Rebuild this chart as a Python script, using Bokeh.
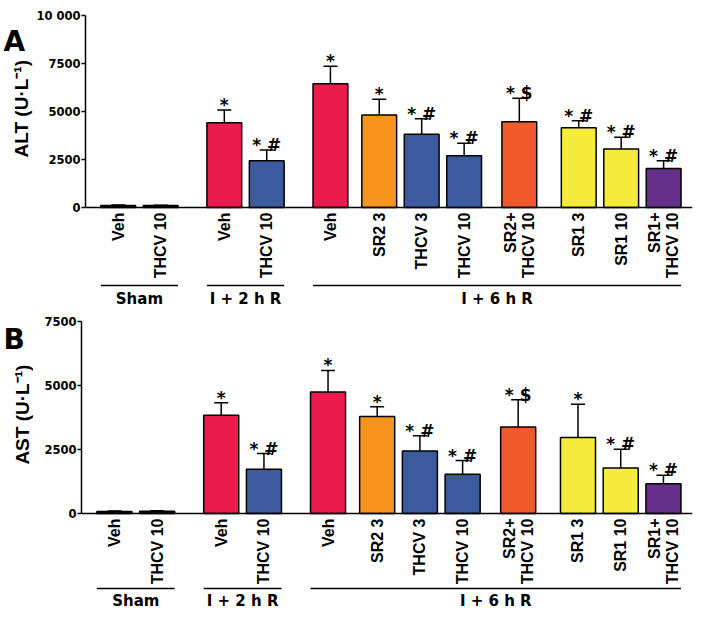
import math
from bokeh.plotting import figure
from bokeh.models import ColumnDataSource, Whisker, TeeHead, Span, FixedTicker
from bokeh.layouts import column, row
from bokeh.embed import file_html
from bokeh.resources import INLINE
from bokeh.core.properties import value

# ---------------- data ----------------
treatments = ["Veh", "THCV 10", "Veh", "THCV 10", "Veh", "SR2 3", "THCV 3", "THCV 10",
              "SR2+\nTHCV 10", "SR1 3", "SR1 10", "SR1+\nTHCV 10"]
group_names = ["Sham", "I + 2 h R", "I + 6 h R"]
group_of = [0, 0, 1, 1, 2, 2, 2, 2, 2, 2, 2, 2]

alt_mean = [110, 100, 4420, 2430, 6440, 4820, 3810, 2690, 4470, 4160, 3050, 2030]
alt_sem = [20, 20, 660, 570, 920, 820, 810, 660, 1220, 360, 610, 410]
alt_marks = ["", "", "*", "* #", "*", "*", "* #", "* #", "* $", "* #", "* #", "* #"]
alt_ticks = [0, 2500, 5000, 7500, 10000]

ast_mean = [80, 90, 3840, 1730, 4750, 3790, 2440, 1530, 3380, 2970, 1780, 1160]
ast_sem = [15, 15, 490, 610, 840, 380, 600, 540, 1060, 1300, 730, 330]
ast_marks = ["", "", "*", "* #", "*", "*", "* #", "* #", "* $", "*", "* #", "* #"]
ast_ticks = [0, 2500, 5000, 7500]

bar_colors = ["#111111", "#111111", "#EC1B4E", "#3D5A9E", "#EC1B4E", "#F7941E", "#3D5A9E",
              "#3D5A9E", "#F15A2B", "#F4EB3B", "#F4EB3B", "#66308A"]

# ---------------- layout ----------------
GAPS = [1, 1.5, 1, 1.5, 1.15, 1, 1, 1.3, 1.4, 1, 1]
xs = [0.0]
for g in GAPS:
    xs.append(xs[-1] + g)
X_START = -0.77
X_END = xs[-1] + 0.68
BAR_W = 0.82
STRIP_W = 33
MAIN_W = 693 - STRIP_W
BORDER_L = 48
BORDER_R = 1

BOLD_H = "DejaVu Sans"
BOLD_V = "Liberation Sans"


def make_strip(letter, ylabel, fig_h, letter_base, title_x, title_y):
    s = figure(width=STRIP_W, height=fig_h, x_range=(0, STRIP_W), y_range=(fig_h, 0),
               output_backend="svg", toolbar_location=None, x_axis_location=None,
               y_axis_location=None, min_border=0)
    s.outline_line_color = None
    s.grid.visible = False
    s.text(x=[3], y=[letter_base], text=[letter], text_align="left",
           text_baseline="alphabetic", text_font=value(BOLD_H), text_font_style="bold",
           text_font_size="28px", text_color="black")
    s.text(x=[title_x], y=[title_y], text=[ylabel], angle=math.pi / 2, text_align="center",
           text_baseline="middle", text_font=value(BOLD_V), text_font_style="bold",
           text_font_size="19px", text_color="black")
    return s


def make_panel(ymax, ticks, means, sems, marks, fig_h, top, plot_px, line_px, glabel_px):
    frame_h = fig_h - top
    upp = ymax / plot_px
    y_start = -(frame_h - plot_px) * upp
    p = figure(width=MAIN_W, height=fig_h, x_range=(X_START, X_END), y_range=(y_start, ymax),
               output_backend="svg", toolbar_location=None, x_axis_location=None,
               min_border_left=BORDER_L, min_border_right=BORDER_R,
               min_border_top=top, min_border_bottom=0)
    p.outline_line_color = None
    p.grid.visible = False
    p.background_fill_color = "white"
    p.border_fill_color = "white"

    ax = p.yaxis[0]
    ax.bounds = (0, ymax)
    ax.ticker = FixedTicker(ticks=ticks)
    ax.major_label_overrides = {10000: "10 000"}
    ax.minor_tick_line_color = None
    ax.major_tick_in = 0
    ax.major_tick_out = 4
    ax.axis_line_width = 1.5
    ax.major_tick_line_width = 1.5
    ax.major_label_standoff = 1
    ax.major_label_text_font = BOLD_H
    ax.major_label_text_font_style = "bold"
    ax.major_label_text_font_size = "11.5px"
    ax.major_label_text_color = "black"

    upper = [m + s for m, s in zip(means, sems)]
    src = ColumnDataSource(dict(
        x=xs, mean=means, upper=upper, color=bar_colors, label=treatments,
        mark=marks, mark_y=[u + 5 * upp for u in upper],
        label_y=[-5 * upp] * len(xs),
    ))

    p.add_layout(Span(location=0, dimension="width", line_color="black", line_width=1.5))
    p.vbar(x="x", top="mean", bottom=0, width=BAR_W, fill_color="color",
           line_color="black", line_width=1.5, source=src)
    p.add_layout(Whisker(source=src, base="x", upper="upper", lower="mean",
                         dimension="height", line_color="black", line_width=1.5,
                         upper_head=TeeHead(size=14, line_color="black", line_width=1.5),
                         lower_head=None))
    p.text(x="x", y="mark_y", text="mark", source=src, text_align="center",
           text_baseline="alphabetic", text_font=value(BOLD_H), text_font_style="bold",
           text_font_size="17px", text_color="black")

    # rotated treatment labels
    p.text(x="x", y="label_y", text="label", source=src, angle=math.pi / 2,
           text_align="right", text_baseline="middle", text_font=value(BOLD_V),
           text_font_style="bold", text_font_size="16px", text_line_height=1.05,
           text_color="black")

    # group lines and labels
    gx0, gx1, gxc = [], [], []
    for gi in range(len(group_names)):
        members = [xs[i] for i in range(len(xs)) if group_of[i] == gi]
        a = min(members) - BAR_W / 2
        b = max(members) + BAR_W / 2
        gx0.append(a)
        gx1.append(b)
        gxc.append((a + b) / 2)
    gy = [-line_px * upp] * len(group_names)
    p.segment(x0=gx0, y0=gy, x1=gx1, y1=gy, line_color="black", line_width=1.5)
    p.text(x=gxc, y=[-glabel_px * upp] * len(group_names), text=group_names,
           text_align="center", text_baseline="middle", text_font=value(BOLD_H),
           text_font_style="bold", text_font_size="15px", text_color="black")
    return p


H_A, H_B = 309, 302
sA = make_strip("A", "ALT (U·L⁻¹)", H_A, letter_base=27, title_x=21, title_y=98)
pA = make_panel(10000, alt_ticks, alt_mean, alt_sem, alt_marks,
                fig_h=H_A, top=15, plot_px=192, line_px=78, glabel_px=91)
sB = make_strip("B", "AST (U·L⁻¹)", H_B, letter_base=19, title_x=21.5, title_y=97)
pB = make_panel(7500, ast_ticks, ast_mean, ast_sem, ast_marks,
                fig_h=H_B, top=12, plot_px=192, line_px=75, glabel_px=87)

layout = column(row(sA, pA, spacing=0), row(sB, pB, spacing=0), spacing=0)
open("out.html", "w").write(file_html(layout, INLINE))
